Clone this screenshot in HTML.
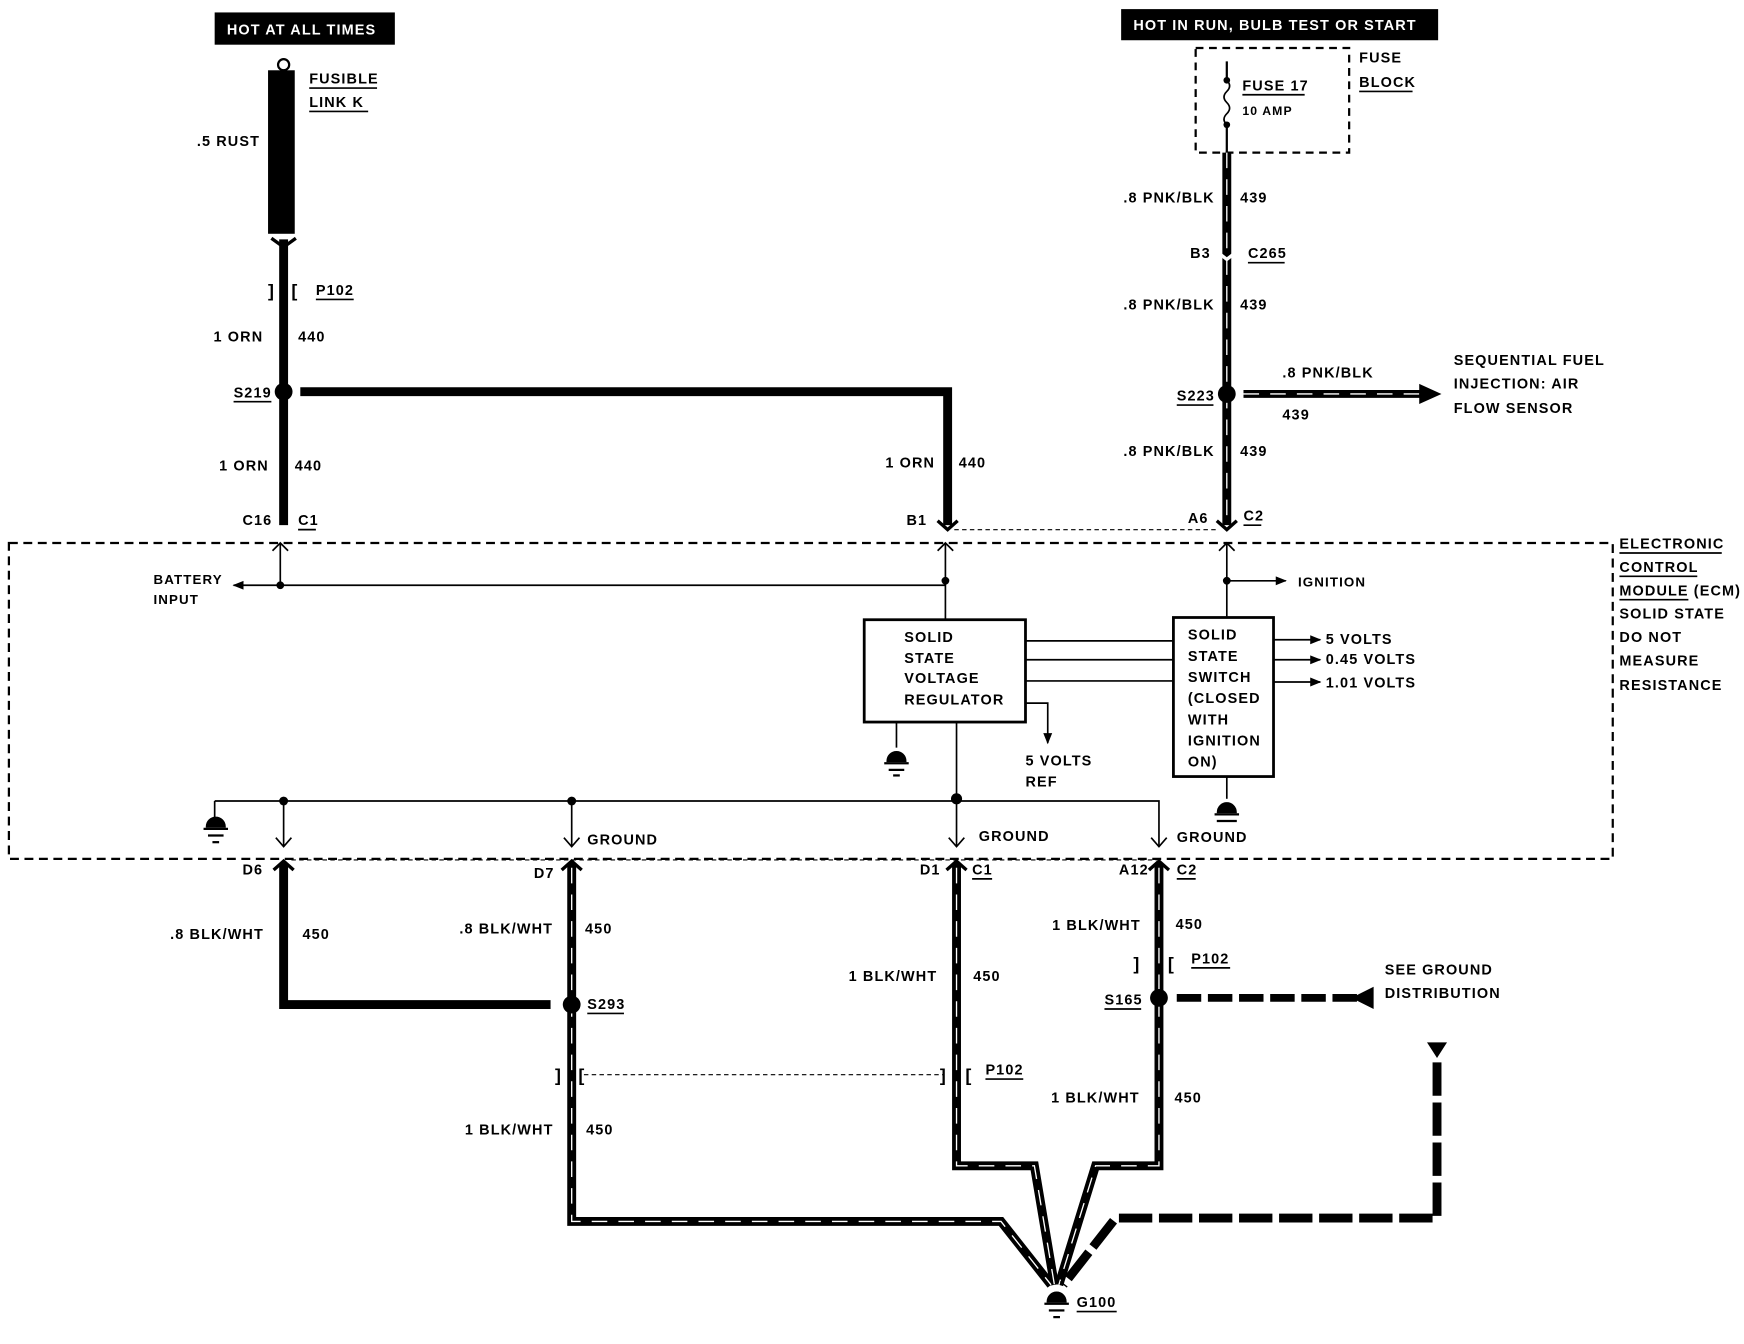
<!DOCTYPE html>
<html><head><style>
html,body{margin:0;padding:0;background:#fff;}
svg{display:block}
text{font-family:"Liberation Sans",sans-serif;font-weight:bold;font-size:13px;letter-spacing:1px;fill:#000}
</style></head><body>
<svg width="1744" height="1344" viewBox="0 0 1568 1208" xmlns="http://www.w3.org/2000/svg">
<defs>
<marker id="ah" markerWidth="10" markerHeight="10" refX="9" refY="5" orient="auto" markerUnits="userSpaceOnUse"><path d="M0,1 L10,5 L0,9z" fill="#000"/></marker>
</defs>
<!-- header boxes -->
<rect x="193" y="11" width="162" height="29" fill="#000"/>
<text x="204" y="31" style="fill:#fff;font-size:13px">HOT AT ALL TIMES</text>
<rect x="1008" y="8" width="285" height="28" fill="#000"/>
<text x="1019" y="27" style="fill:#fff;font-size:13px">HOT IN RUN, BULB TEST OR START</text>

<!-- fusible link -->
<circle cx="255" cy="58" r="5" fill="none" stroke="#000" stroke-width="2"/>
<rect x="241" y="63" width="24" height="147" fill="#000"/>
<text x="278" y="75">FUSIBLE</text><line x1="278" y1="79" x2="339" y2="79" stroke="#000" stroke-width="1.5"/>
<text x="278" y="96">LINK K</text><line x1="278" y1="100" x2="331" y2="100" stroke="#000" stroke-width="1.5"/>
<text x="177" y="131">.5 RUST</text>

<!-- left wire -->
<g stroke="#000" fill="none">
<line x1="255" y1="215" x2="255" y2="472" stroke-width="8"/>
<path d="M270 352 H852 V472" stroke-width="8"/>
</g>
<path d="M244 214 L255 222 L266 214" fill="none" stroke="#000" stroke-width="3"/>
<text x="241" y="267" style="font-size:16px">]</text><text x="262" y="267" style="font-size:16px">[</text>
<text x="284" y="265">P102</text><line x1="284" y1="269" x2="318" y2="269" stroke="#000" stroke-width="1.5"/>
<text x="192" y="307">1 ORN</text><text x="268" y="307">440</text>
<circle cx="255" cy="352" r="8" fill="#000"/>
<text x="210" y="357">S219</text><line x1="210" y1="361" x2="244" y2="361" stroke="#000" stroke-width="1.5"/>
<text x="197" y="423">1 ORN</text><text x="265" y="423">440</text>
<text x="796" y="420">1 ORN</text><text x="862" y="420">440</text>
<text x="218" y="472">C16</text><text x="268" y="472">C1</text><line x1="268" y1="476" x2="284" y2="476" stroke="#000" stroke-width="1.5"/>
<text x="815" y="472">B1</text>

<!-- fuse block -->
<rect x="1075" y="43" width="138" height="94" fill="none" stroke="#000" stroke-width="2" stroke-dasharray="7,5"/>
<line x1="1103" y1="55" x2="1103" y2="70" stroke="#000" stroke-width="2"/>
<circle cx="1103" cy="72" r="3" fill="#000"/>
<path d="M1103 72 q5 5 0 10 q-5 5 0 10 q5 5 0 10 q-5 5 0 10" fill="none" stroke="#000" stroke-width="1.5"/>
<circle cx="1103" cy="112" r="3" fill="#000"/>
<line x1="1103" y1="112" x2="1103" y2="137" stroke="#000" stroke-width="2"/>
<text x="1117" y="81">FUSE 17</text><line x1="1117" y1="85" x2="1173" y2="85" stroke="#000" stroke-width="1.5"/>
<text x="1117" y="103" style="font-size:11px">10 AMP</text>
<text x="1222" y="56">FUSE</text><text x="1222" y="78">BLOCK</text><line x1="1222" y1="82" x2="1270" y2="82" stroke="#000" stroke-width="1.5"/>

<!-- right wire -->
<line x1="1103" y1="137" x2="1103" y2="472" stroke="#000" stroke-width="8"/>
<line x1="1103" y1="137" x2="1103" y2="472" stroke="#fff" stroke-width="1.2" stroke-dasharray="14,10"/>
<path d="M1094 226 L1103 233 L1112 226" fill="none" stroke="#fff" stroke-width="3"/>
<text x="1010" y="182">.8 PNK/BLK</text><text x="1115" y="182">439</text>
<text x="1070" y="232">B3</text><text x="1122" y="232">C265</text><line x1="1122" y1="236" x2="1155" y2="236" stroke="#000" stroke-width="1.5"/>
<text x="1010" y="278">.8 PNK/BLK</text><text x="1115" y="278">439</text>
<circle cx="1103" cy="354" r="8" fill="#000"/>
<text x="1058" y="360">S223</text><line x1="1058" y1="364" x2="1091" y2="364" stroke="#000" stroke-width="1.5"/>
<line x1="1118" y1="354" x2="1280" y2="354" stroke="#000" stroke-width="7"/>
<line x1="1118" y1="354" x2="1280" y2="354" stroke="#fff" stroke-width="1.2" stroke-dasharray="14,10"/>
<path d="M1276 345 L1296 354 L1276 363z" fill="#000"/>
<text x="1153" y="339">.8 PNK/BLK</text><text x="1153" y="377">439</text>
<text x="1307" y="328">SEQUENTIAL FUEL</text><text x="1307" y="349">INJECTION: AIR</text><text x="1307" y="371">FLOW SENSOR</text>
<text x="1010" y="410">.8 PNK/BLK</text><text x="1115" y="410">439</text>
<text x="1068" y="470">A6</text><text x="1118" y="468">C2</text><line x1="1118" y1="472" x2="1134" y2="472" stroke="#000" stroke-width="1.5"/>
<line x1="858" y1="476" x2="1095" y2="476" stroke="#000" stroke-width="1" stroke-dasharray="4,3"/>
<path d="M1094 468 L1103 476 L1112 468" fill="none" stroke="#000" stroke-width="3"/>
<path d="M843 468 L852 476 L861 468" fill="none" stroke="#000" stroke-width="3"/>

<!-- ECM box -->
<rect x="8" y="488" width="1442" height="284" fill="none" stroke="#000" stroke-width="2" stroke-dasharray="8,5"/>
<text x="1456" y="493">ELECTRONIC</text><line x1="1456" y1="497" x2="1548" y2="497" stroke="#000" stroke-width="1.5"/>
<text x="1456" y="514">CONTROL</text><line x1="1456" y1="518" x2="1526" y2="518" stroke="#000" stroke-width="1.5"/>
<text x="1456" y="535">MODULE (ECM)</text><line x1="1456" y1="539" x2="1518" y2="539" stroke="#000" stroke-width="1.5"/>
<text x="1456" y="556">SOLID STATE</text><text x="1456" y="577">DO NOT</text><text x="1456" y="598">MEASURE</text><text x="1456" y="620">RESISTANCE</text>

<g stroke="#000" stroke-width="1.5" fill="none">
<path d="M245 495 L252 488 L259 495 M252 488 V526"/>
<path d="M843 495 L850 488 L857 495 M850 488 V557"/>
<path d="M1096 495 L1103 488 L1110 495 M1103 488 V554"/>
<line x1="850" y1="526" x2="210" y2="526" marker-end="url(#ah)"/>
<line x1="1103" y1="522" x2="1156" y2="522" marker-end="url(#ah)"/>
<rect x="777" y="557" width="145" height="92" stroke-width="2.5"/>
<rect x="1055" y="555" width="90" height="143" stroke-width="2.5"/>
<line x1="922" y1="576" x2="1055" y2="576"/><line x1="922" y1="593" x2="1055" y2="593"/><line x1="922" y1="612" x2="1055" y2="612"/>
<line x1="1145" y1="575" x2="1187" y2="575" marker-end="url(#ah)"/>
<line x1="1145" y1="593" x2="1187" y2="593" marker-end="url(#ah)"/>
<line x1="1145" y1="613" x2="1187" y2="613" marker-end="url(#ah)"/>
<path d="M922 632 H942 V668" marker-end="url(#ah)"/>
<line x1="806" y1="649" x2="806" y2="672"/>
<line x1="860" y1="649" x2="860" y2="720"/>
<line x1="1103" y1="698" x2="1103" y2="718"/>
<path d="M193 720 H1042 V760"/>
<line x1="193" y1="720" x2="193" y2="735"/>
<line x1="255" y1="720" x2="255" y2="760"/><line x1="514" y1="720" x2="514" y2="760"/><line x1="860" y1="720" x2="860" y2="760"/>
<path d="M248 753 L255 761 L262 753 M507 753 L514 761 L521 753 M853 753 L860 761 L867 753 M1035 753 L1042 761 L1049 753"/>
</g>
<circle cx="850" cy="522" r="3.5" fill="#000"/><circle cx="252" cy="526" r="3.5" fill="#000"/><circle cx="1103" cy="522" r="3.5" fill="#000"/>
<circle cx="255" cy="720" r="4" fill="#000"/><circle cx="514" cy="720" r="4" fill="#000"/><circle cx="860" cy="718" r="5" fill="#000"/>
<text x="138" y="525" style="font-size:12px">BATTERY</text><text x="138" y="543" style="font-size:12px">INPUT</text>
<text x="1167" y="527" style="font-size:12px">IGNITION</text>
<g style="font-size:12px">
<text x="813" y="577">SOLID</text><text x="813" y="596">STATE</text><text x="813" y="614">VOLTAGE</text><text x="813" y="633">REGULATOR</text>
<text x="1068" y="575">SOLID</text><text x="1068" y="594">STATE</text><text x="1068" y="613">SWITCH</text><text x="1068" y="632">(CLOSED</text><text x="1068" y="651">WITH</text><text x="1068" y="670">IGNITION</text><text x="1068" y="689">ON)</text>
<text x="1192" y="579">5 VOLTS</text><text x="1192" y="597">0.45 VOLTS</text><text x="1192" y="618">1.01 VOLTS</text>
<text x="922" y="688">5 VOLTS</text><text x="922" y="707">REF</text>
<text x="528" y="759">GROUND</text><text x="880" y="756">GROUND</text><text x="1058" y="757">GROUND</text>
</g>
<!-- grounds -->
<g fill="#000" stroke="#000" stroke-width="2">
<path d="M798 684 a8 8 0 0 1 16 0z"/><line x1="795" y1="686" x2="817" y2="686"/><line x1="799" y1="692" x2="813" y2="692"/><line x1="803" y1="697" x2="809" y2="697"/>
<path d="M1095 730 a8 8 0 0 1 16 0z"/><line x1="1092" y1="732" x2="1114" y2="732"/><line x1="1094" y1="738" x2="1112" y2="738"/>
<path d="M186 743 a8 8 0 0 1 16 0z"/><line x1="183" y1="745" x2="205" y2="745"/><line x1="187" y1="751" x2="201" y2="751"/><line x1="191" y1="757" x2="197" y2="757"/>
<path d="M942 1170 a8 8 0 0 1 16 0z"/><line x1="939" y1="1172" x2="961" y2="1172"/><line x1="943" y1="1178" x2="957" y2="1178"/><line x1="947" y1="1184" x2="953" y2="1184"/>
</g>

<!-- bottom connectors labels -->
<text x="218" y="786">D6</text><text x="480" y="789">D7</text><text x="827" y="786">D1</text>
<text x="874" y="786">C1</text><line x1="874" y1="790" x2="892" y2="790" stroke="#000" stroke-width="1.5"/>
<text x="1006" y="786">A12</text><text x="1058" y="786">C2</text><line x1="1058" y1="790" x2="1075" y2="790" stroke="#000" stroke-width="1.5"/>
<line x1="262" y1="773" x2="1040" y2="773" stroke="#000" stroke-width="1" stroke-dasharray="4,3"/>

<!-- bottom wires -->
<g fill="none" stroke="#000" stroke-width="8">
<path d="M255 776 V903 H495"/>
<path d="M514 776 V1098 H900 L945 1155"/>
<path d="M860 776 V1048 H930 L948 1155"/>
<path d="M1042 776 V1048 H985 L952 1155"/>
</g>
<g fill="none" stroke="#fff" stroke-width="1.2" stroke-dasharray="14,10">
<path d="M514 780 V1098 H900 L945 1155"/>
<path d="M860 780 V1048 H930 L948 1155"/>
<path d="M1042 780 V1048 H985 L952 1155"/>
</g>
<path d="M1292 955 V1095 H1003 L956 1155" fill="none" stroke="#000" stroke-width="8" stroke-dasharray="30,6"/>
<path d="M1283 937 L1301 937 L1292 951z" fill="#000"/>
<g fill="none" stroke="#000" stroke-width="3">
<path d="M246 782 L255 774 L264 782"/><path d="M505 782 L514 774 L523 782"/><path d="M851 782 L860 774 L869 782"/><path d="M1033 782 L1042 774 L1051 782"/>
</g>
<circle cx="514" cy="903" r="8" fill="#000"/>
<circle cx="1042" cy="897" r="8" fill="#000"/>
<line x1="1058" y1="897" x2="1220" y2="897" stroke="#000" stroke-width="7" stroke-dasharray="22,6"/>
<path d="M1235 887 L1215 897 L1235 907z" fill="#000"/>
<line x1="525" y1="966" x2="848" y2="966" stroke="#000" stroke-width="1" stroke-dasharray="4,3"/>
<text x="499" y="972" style="font-size:16px">]</text><text x="520" y="972" style="font-size:16px">[</text>
<text x="845" y="972" style="font-size:16px">]</text><text x="868" y="972" style="font-size:16px">[</text>
<text x="1019" y="872" style="font-size:16px">]</text><text x="1050" y="872" style="font-size:16px">[</text>

<text x="153" y="844">.8 BLK/WHT</text><text x="272" y="844">450</text>
<text x="413" y="839">.8 BLK/WHT</text><text x="526" y="839">450</text>
<text x="528" y="907">S293</text><line x1="528" y1="911" x2="561" y2="911" stroke="#000" stroke-width="1.5"/>
<text x="418" y="1020">1 BLK/WHT</text><text x="527" y="1020">450</text>
<text x="763" y="882">1 BLK/WHT</text><text x="875" y="882">450</text>
<text x="886" y="966">P102</text><line x1="886" y1="970" x2="920" y2="970" stroke="#000" stroke-width="1.5"/>
<text x="946" y="836">1 BLK/WHT</text><text x="1057" y="835">450</text>
<text x="1071" y="866">P102</text><line x1="1071" y1="870" x2="1106" y2="870" stroke="#000" stroke-width="1.5"/>
<text x="993" y="903">S165</text><line x1="993" y1="907" x2="1026" y2="907" stroke="#000" stroke-width="1.5"/>
<text x="1245" y="876">SEE GROUND</text><text x="1245" y="897">DISTRIBUTION</text>
<text x="945" y="991">1 BLK/WHT</text><text x="1056" y="991">450</text>
<text x="968" y="1175">G100</text><line x1="968" y1="1179" x2="1004" y2="1179" stroke="#000" stroke-width="1.5"/>
</svg>
</body></html>
